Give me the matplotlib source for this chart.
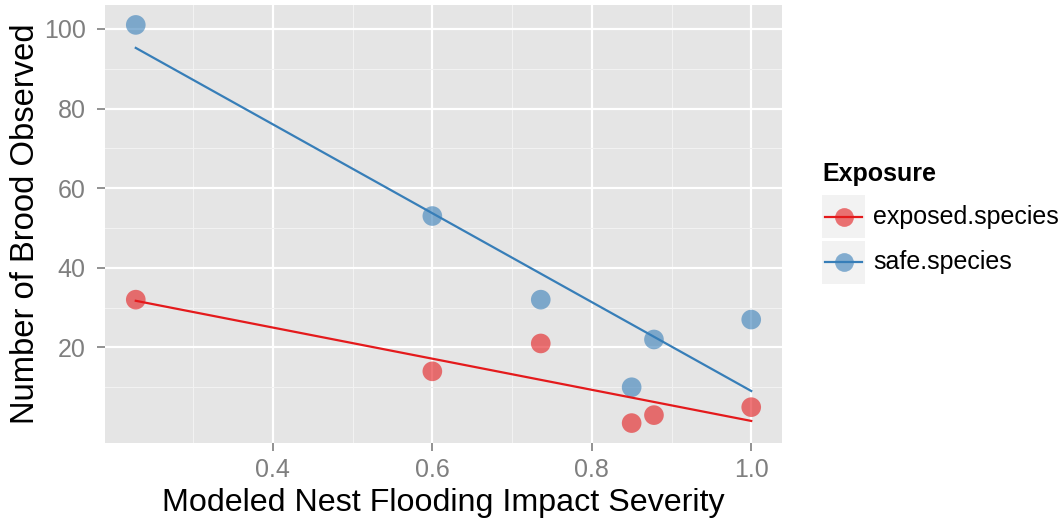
import numpy as np
import matplotlib
matplotlib.use("Agg")
import matplotlib.pyplot as plt
from matplotlib.lines import Line2D
from matplotlib.patches import Rectangle

plt.rcParams['font.family'] = ['Liberation Sans', 'DejaVu Sans']

severity = [0.228, 0.600, 0.736, 0.850, 0.878, 1.000]
exposed_species = [32, 14, 21, 1, 3, 5]
safe_species = [101, 53, 32, 10, 22, 27]
series_names = ["exposed.species", "safe.species"]
x_ticks = [0.4, 0.6, 0.8, 1.0]
x_tick_labels = ["0.4", "0.6", "0.8", "1.0"]
y_ticks = [20, 40, 60, 80, 100]
y_tick_labels = ["20", "40", "60", "80", "100"]

colors = {"exposed.species": "#E41A1C", "safe.species": "#377EB8"}

W, H = 1063, 521
fig = plt.figure(figsize=(W / 100, H / 100), dpi=100)
ax = fig.add_axes([105 / W, 1 - 443 / H, (782 - 105) / W, (443 - 5) / H])
ax.set_facecolor("#E5E5E5")

x = np.array(severity)
for name, ys in zip(series_names, [exposed_species, safe_species]):
    ys = np.array(ys, dtype=float)
    c = colors[name]
    ax.scatter(x, ys, s=200, color=c, alpha=0.6, edgecolors="none", zorder=3)
    m, b = np.polyfit(x, ys, 1)
    xl = np.array([x.min(), x.max()])
    ax.plot(xl, m * xl + b, color=c, lw=1.6, zorder=4)

xr = x.max() - x.min()
ax.set_xlim(x.min() - 0.05 * xr, x.max() + 0.05 * xr)
allv = exposed_species + safe_species
yr = max(allv) - min(allv)
ax.set_ylim(min(allv) - 0.05 * yr, max(allv) + 0.05 * yr)

ax.set_xticks(x_ticks)
ax.set_xticklabels(x_tick_labels)
ax.set_yticks(y_ticks)
ax.set_yticklabels(y_tick_labels)
ax.set_xticks([0.3, 0.5, 0.7, 0.9], minor=True)
ax.set_yticks([10, 30, 50, 70, 90], minor=True)
ax.grid(which="major", color="white", lw=1.6)
ax.grid(which="minor", color="#F2F2F2", lw=0.8)
ax.set_axisbelow(True)
ax.tick_params(which="major", length=6, width=1.2, color="#7F7F7F",
               labelcolor="#7F7F7F", labelsize=18, pad=5)
ax.tick_params(axis="y", which="major", pad=8)
ax.tick_params(which="minor", length=0)
for s in ax.spines.values():
    s.set_visible(False)

ax.set_xlabel("Modeled Nest Flooding Impact Severity", fontsize=23.2, labelpad=4)
ax.set_ylabel("Number of Brood Observed", fontsize=23.6, labelpad=2)

# legend
fig.text(822 / W, 1 - 174 / H, "Exposure", fontsize=18, fontweight="bold",
         va="center", ha="left")
key_y = [217, 262]
for name, ky in zip(series_names, key_y):
    c = colors[name]
    fig.patches.append(Rectangle((822 / W, 1 - (ky + 21.5) / H), 43 / W, 43 / H,
                                 transform=fig.transFigure, facecolor="#F2F2F2",
                                 edgecolor="none"))
    fig.lines.append(Line2D([825 / W, 862 / W], [1 - ky / H, 1 - ky / H],
                            transform=fig.transFigure, color=c, lw=1.6))
    fig.lines.append(Line2D([843.5 / W], [1 - ky / H], transform=fig.transFigure,
                            marker="o", markersize=13.5, color=c, alpha=0.6,
                            markeredgecolor="none", linestyle="none"))
    fig.text(873 / W, 1 - ky / H, name, fontsize=18, va="center", ha="left")

fig.savefig("out.png", dpi=100)
